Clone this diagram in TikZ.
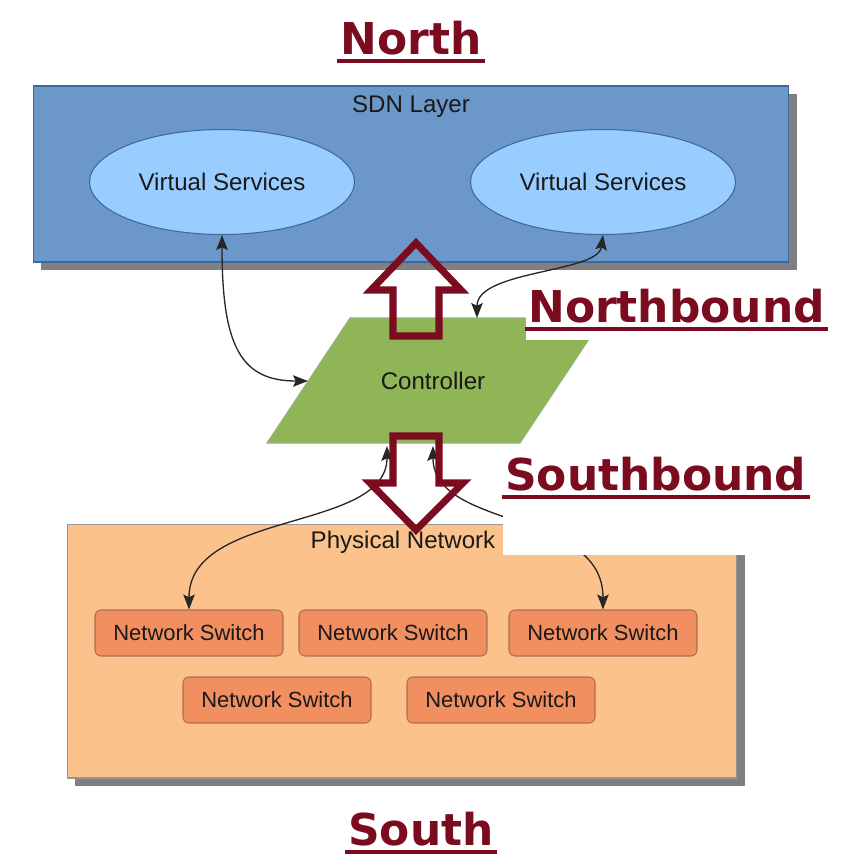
\documentclass[tikz,border=0pt]{standalone}
\usepackage{fontspec}
\setmainfont{Liberation Sans}
\newfontfamily\headfont{DejaVu Sans}
\usepackage{tikz}
\usetikzlibrary{arrows.meta}
\usetikzlibrary{shapes}
\usetikzlibrary{positioning}
\usetikzlibrary{shadows}

\definecolor{sdnblue}{RGB}{108,151,201}
\definecolor{sdnline}{RGB}{60,104,160}
\definecolor{svcblue}{RGB}{153,204,255}
\definecolor{ctrlgreen}{RGB}{143,181,86}
\definecolor{ctrlline}{RGB}{150,180,120}
\definecolor{physorange}{RGB}{251,195,139}
\definecolor{physline}{RGB}{150,150,150}
\definecolor{swfill}{RGB}{242,143,96}
\definecolor{swline}{RGB}{170,110,85}
\definecolor{shadowgray}{RGB}{128,128,128}
\definecolor{darkred}{RGB}{123,12,32}

\begin{document}
\begin{tikzpicture}[x=0.02cm, y=-0.02cm]
            \tikzset{every node/.style={font=\fontsize{13.7}{16}\selectfont, text=black!90},
                    >={Stealth[length=8.5pt,width=6.5pt,inset=1.5pt]},
                    layer/.style={rectangle, line width=0.6pt,
                        drop shadow={shadow xshift=0.16cm, shadow yshift=-0.16cm,
                                     fill=shadowgray, opacity=1}},
                    service/.style={ellipse, draw=sdnline, fill=svcblue, line width=0.6pt,
                        minimum width=5.3cm, minimum height=2.1cm},
                    switch/.style={rectangle, rounded corners=0.12cm, draw=swline, fill=swfill,
                        line width=0.6pt, minimum width=3.76cm, minimum height=0.92cm,
                        font=\fontsize{12.5}{15}\selectfont},
                    conn/.style={draw=black!85, line width=0.75pt},
                    bigarrow/.style={draw=darkred, line width=4pt},
                    title/.style={font=\headfont\bfseries\fontsize{25}{30}\selectfont,
                        text=darkred, inner sep=0pt},
                    uline/.style={draw=darkred, line width=2.3pt}}
            \useasboundingbox (0,0) rectangle (850,860);
            % layers
            \node[layer, draw=sdnline, fill=sdnblue, minimum width=15.12cm, minimum height=3.52cm] (sdn) at (411,174) {};
            \node[layer, draw=physline, fill=physorange, minimum width=13.4cm, minimum height=5.08cm] (phys) at (402,651) {};
            \node (sdnlbl) at (411,107) {SDN Layer};
            \node (physlbl) at (403,542) {Physical Network};
            \node[service] (vs1) at (222,182) {Virtual Services};
            \node[service] (vs2) at (603,182) {Virtual Services};
            % controller
            \filldraw[fill=ctrlgreen, draw=ctrlline, line width=0.6pt]
                (350,318) -- (603,318) -- (520,443) -- (267,443) -- cycle;
            \node (ctrl) at (433,381) {Controller};
            \coordinate (ctrlW) at (308,381);
            \coordinate (ctrlN) at (477,318);
            \coordinate (ctrlS1) at (387,446);
            \coordinate (ctrlS2) at (433,446);
            % switches
            \node[switch] (sw1) at (189,633) {Network Switch};
            \node[switch] (sw2) at (393,633) {Network Switch};
            \node[switch] (sw3) at (603,633) {Network Switch};
            \node[switch] (sw4) at (277,700) {Network Switch};
            \node[switch] (sw5) at (501,700) {Network Switch};
            % connectors
            \draw[conn, <->] (vs1.south) .. controls +(0,110) and +(-68,0) .. (ctrlW);
            \draw[conn, <->] (vs2.south) .. controls +(-5,38) and +(0,-48) .. (ctrlN);
            \draw[conn, <->] (ctrlS1) .. controls +(0,86) and +(0,-100) .. (sw1.north);
            \draw[conn, <->] (ctrlS2) .. controls +(0,84) and +(0,-100) .. (sw3.north);
            % north- and southbound arrows
            \draw[bigarrow] (416,243) -- (461,290) -- (439,290) -- (439,336)
                -- (393,336) -- (393,290) -- (371,290) -- cycle;
            \draw[bigarrow] (393,436) -- (439,436) -- (439,483) -- (463,483)
                -- (416,530) -- (370,483) -- (393,483) -- cycle;
            % labels
            \fill[white] (526,277) rectangle (832,340);
            \fill[white] (503,446) rectangle (815,555);
            \node[title, anchor=base] (north) at (411,54) {North};
            \node[title, anchor=base] (south) at (421,845) {South};
            \node[title, anchor=base west] (nb) at (528,322) {Northbound};
            \node[title, anchor=base west] (sb) at (505,490) {Southbound};
            \foreach \t in {north, south, nb, sb}
                \draw[uline] ([shift={(-3,7)}]\t.base west) -- ([shift={(3,7)}]\t.base east);
\end{tikzpicture}
\end{document}
